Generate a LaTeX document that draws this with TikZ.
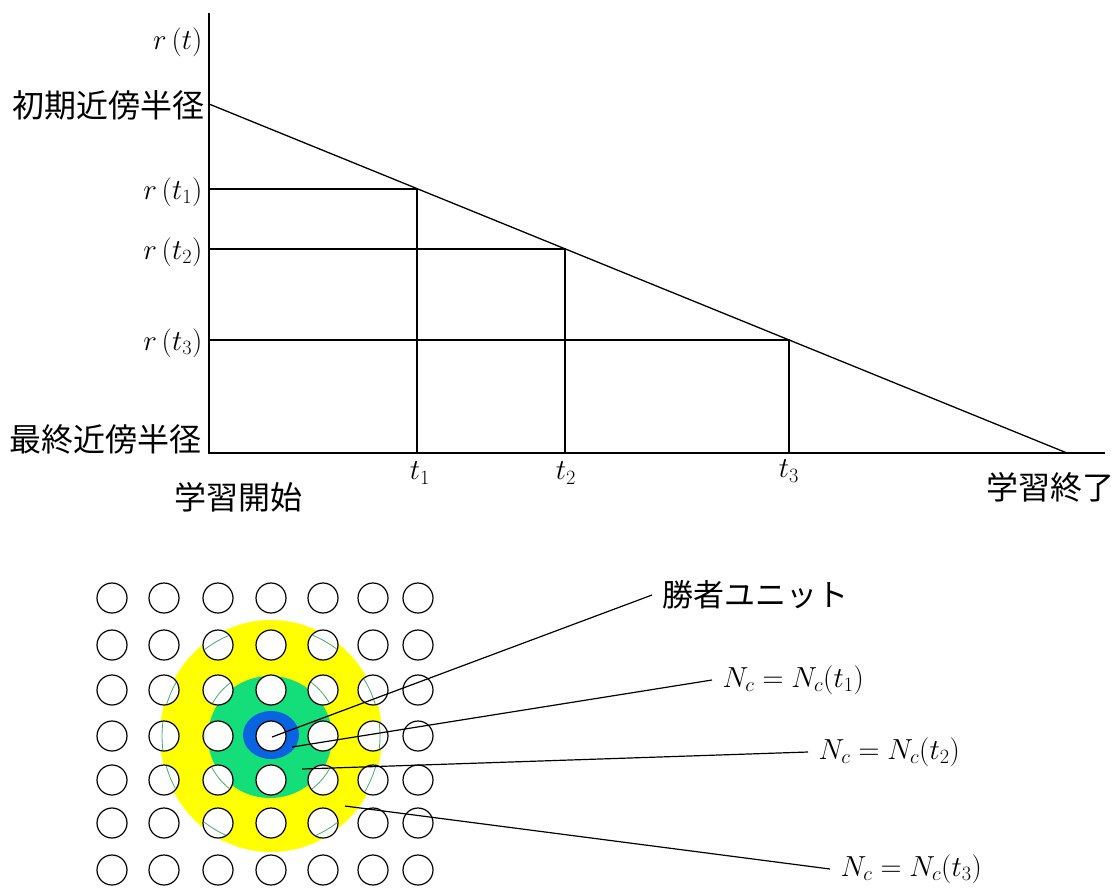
\RequirePackage{fix-cm}
\documentclass[tikz,border=0pt]{standalone}
\usepackage{fontspec}
\newfontfamily\jp{Noto Sans CJK JP}
\definecolor{ringyellow}{RGB}{255,255,0}
\definecolor{ringgreen}{RGB}{20,222,122}
\definecolor{ringblue}{RGB}{10,100,225}
\definecolor{arcgreen}{RGB}{70,170,110}
\begin{document}
\begin{tikzpicture}[x=1pt,y=-1pt,line width=1.3pt,
  jplab/.style={font=\jp\fontsize{32}{36}\selectfont,inner sep=0pt},
  mlab/.style={font=\fontsize{29}{33}\selectfont,inner sep=0pt},
  leadlab/.style={inner xsep=10pt,inner ysep=0pt,anchor=west},
  unit/.style={circle,draw,fill=white,minimum size=30pt,inner sep=0pt,line width=1.2pt},
  leader/.style={line width=1.2pt}]
\path[use as bounding box] (0,0) rectangle (1118,887);

% ---------- upper graph ----------
\coordinate (O) at (209,453);
\coordinate (Ytop) at (209,13);
\coordinate (Xend) at (1105,453);
\coordinate (R0) at (209,104);
\coordinate (Rend) at (1067,453);
\draw (Ytop) -- (O) -- (Xend);
\draw (R0) -- (Rend);

\coordinate (A1) at (209,189); \coordinate (P1) at (417,189); \coordinate (B1) at (417,453);
\coordinate (A2) at (209,249); \coordinate (P2) at (565,249); \coordinate (B2) at (565,453);
\coordinate (A3) at (209,340); \coordinate (P3) at (789,340); \coordinate (B3) at (789,453);
\draw (A1) -- (P1) -- (B1);
\draw (A2) -- (P2) -- (B2);
\draw (A3) -- (P3) -- (B3);

\node[mlab,anchor=east] (rt) at (203,42) {$r\,(t)$};
\node[jplab,anchor=east] (rinit) at (205,105) {初期近傍半径};
\node[mlab,anchor=east] (rt1) at (203,192) {$r\,(t_1)$};
\node[mlab,anchor=east] (rt2) at (203,252) {$r\,(t_2)$};
\node[mlab,anchor=east] (rt3) at (203,343) {$r\,(t_3)$};
\node[jplab,anchor=east] (rfin) at (202,439) {最終近傍半径};
\node[mlab] (t1) at (420,473) {$t_1$};
\node[mlab] (t2) at (566,473) {$t_2$};
\node[mlab] (t3) at (789,471) {$t_3$};
\node[jplab] (start) at (238,497) {学習開始};
\node[jplab] (end) at (1050,487) {学習終了};

% ---------- lower grid ----------
\fill[ringyellow] (271,736) ellipse [x radius=111,y radius=116];
\fill[ringgreen] (270,737) ellipse [x radius=62,y radius=61];
\fill[ringblue] (271,735) ellipse [x radius=28,y radius=24];

\foreach \x [count=\i] in {112,164,218,271,323,373,418}
  \foreach \y [count=\j] in {598,645,690,736,780,823,870}
    \node[unit] (u\i\j) at (\x,\y) {};

\begin{scope}
  \clip \foreach \x in {112,164,218,271,323,373,418} {
          \foreach \y in {598,645,690,736,780,823,870} { (\x,\y) circle[radius=14.3] } };
  \draw[arcgreen,line width=0.8pt] (271,736) circle[radius=109];
  \draw[arcgreen,line width=0.8pt] (271,736) circle[radius=67];
\end{scope}

\coordinate (w) at (272,737);
\coordinate (s1) at (292,747);
\coordinate (s2) at (302,769);
\coordinate (s3) at (345,806);

\node[jplab,leadlab,font=\jp\fontsize{31}{35}\selectfont] (win) at (652,595) {勝者ユニット};
\node[mlab,leadlab] (nc1) at (712,680) {$N_c = N_c(t_1)$};
\node[mlab,leadlab] (nc2) at (808,752) {$N_c = N_c(t_2)$};
\node[mlab,leadlab] (nc3) at (830,869) {$N_c = N_c(t_3)$};

\draw[leader] (w) -- (win.west);
\draw[leader] (s1) -- (nc1.west);
\draw[leader] (s2) -- (nc2.west);
\draw[leader] (s3) -- (nc3.west);
\end{tikzpicture}
\end{document}
